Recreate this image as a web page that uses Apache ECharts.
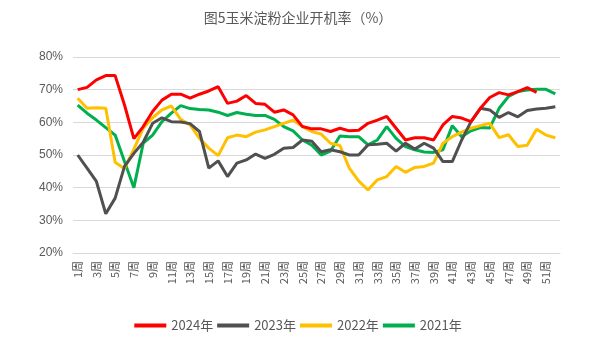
<!DOCTYPE html>
<html>
<head>
<meta charset="utf-8">
<script src="https://cdn.jsdelivr.net/npm/echarts@6/dist/echarts.min.js"></script>
<style>html,body{margin:0;padding:0;background:#fff;}#c{width:596px;height:343px;}</style>
</head>
<body>
<div id="c"></div>
<script>
var weeks = [];
for (var i = 1; i <= 52; i++) weeks.push(i + '周');

var s2024 = [70.0,70.7,73.0,74.3,74.3,65.3,55.0,58.7,63.3,66.8,68.6,68.6,67.4,68.6,69.6,70.9,65.8,66.5,68.2,65.8,65.5,63.1,63.8,62.3,58.7,58.0,58.0,57.2,58.2,57.4,57.6,59.7,60.7,61.8,58.2,54.6,55.3,55.3,54.6,59.2,61.8,61.3,60.2,64.3,67.6,69.1,68.4,69.4,70.6,69.2,null,null];
var s2023 = [50.0,46.0,41.9,32.0,36.8,46.5,50.5,53.9,59.7,61.4,60.2,60.1,59.6,57.2,46.0,48.2,43.4,47.5,48.5,50.3,49.0,50.2,52.1,52.3,54.6,54.2,51.0,51.6,51.0,50.0,50.0,53.1,53.3,53.6,51.2,53.6,51.8,53.6,52.1,48.0,48.0,54.6,60.2,64.3,63.8,61.5,63.0,61.7,63.6,64.1,64.3,64.8];
var s2022 = [67.4,64.3,64.5,64.3,47.8,45.8,51.8,58.2,61.4,63.8,65.0,60.9,59.2,55.1,52.1,49.8,55.3,56.1,55.6,57.0,57.7,58.7,59.7,60.7,58.7,57.2,56.4,53.6,52.9,46.0,42.1,39.3,42.4,43.4,46.5,44.7,46.2,46.5,47.5,53.6,55.6,57.0,58.2,59.0,59.7,55.3,56.2,52.6,53.0,57.9,56.1,55.3];
var s2021 = [65.3,62.8,60.7,58.4,56.1,48.0,40.0,53.6,56.1,60.2,62.8,65.1,64.2,63.9,63.8,63.1,62.1,63.0,62.5,62.1,62.1,60.9,58.7,57.4,54.6,53.0,50.0,51.2,55.8,55.6,55.6,53.1,54.6,58.7,55.1,52.6,51.6,50.9,50.8,51.6,59.0,55.6,57.4,58.4,58.3,64.3,67.9,69.4,69.9,70.1,70.1,68.7];
var yTicks = ['20%','30%','40%','50%','60%','70%','80%'];

var names = ['2024年','2023年','2022年','2021年'];
var colors = ['#FF0000','#505050','#FFC000','#00B050'];
var datas = [s2024, s2023, s2022, s2021];

var chart = echarts.init(document.getElementById('c'), null, {renderer:'canvas'});
var series = names.map(function(n, k){
  return {
    name: n, type: 'line', data: datas[k], symbol: 'none',
    lineStyle: {color: colors[k], width: 3}, itemStyle: {color: colors[k]},
    connectNulls: false, z: 10 - k
  };
});
chart.setOption({
  animation: false,
  backgroundColor: '#fff',
  title: {
    text: '图5玉米淀粉企业开机率（%）', left: 'center', top: 6,
    textStyle: {color: '#595959', fontSize: 14, fontWeight: 'normal', fontFamily: 'Noto Sans CJK SC'}
  },
  legend: {
    bottom: 6, left: 'center', itemWidth: 32, itemHeight: 4, itemGap: 4,
    icon: 'rect',
    textStyle: {color: '#595959', fontSize: 13, fontFamily: 'Noto Sans CJK SC'},
    data: names
  },
  grid: {left: 73, right: 36, top: 57, bottom: 90},
  xAxis: {
    type: 'category', data: weeks, boundaryGap: true,
    axisLine: {show: true, lineStyle: {color: '#D9D9D9'}},
    axisTick: {show: false},
    axisLabel: {interval: 1, rotate: 90, color: '#595959', fontSize: 11, margin: 8, fontFamily: 'Noto Sans CJK SC'}
  },
  yAxis: {
    type: 'value', min: 20, max: 80, interval: 10,
    axisLine: {show: false}, axisTick: {show: false},
    splitLine: {lineStyle: {color: '#D9D9D9', width: 1}},
    axisLabel: {color: '#595959', fontSize: 12, margin: 10,
      formatter: function(v){ return yTicks[(v - 20) / 10]; }}
  },
  series: series
});
</script>
</body>
</html>
